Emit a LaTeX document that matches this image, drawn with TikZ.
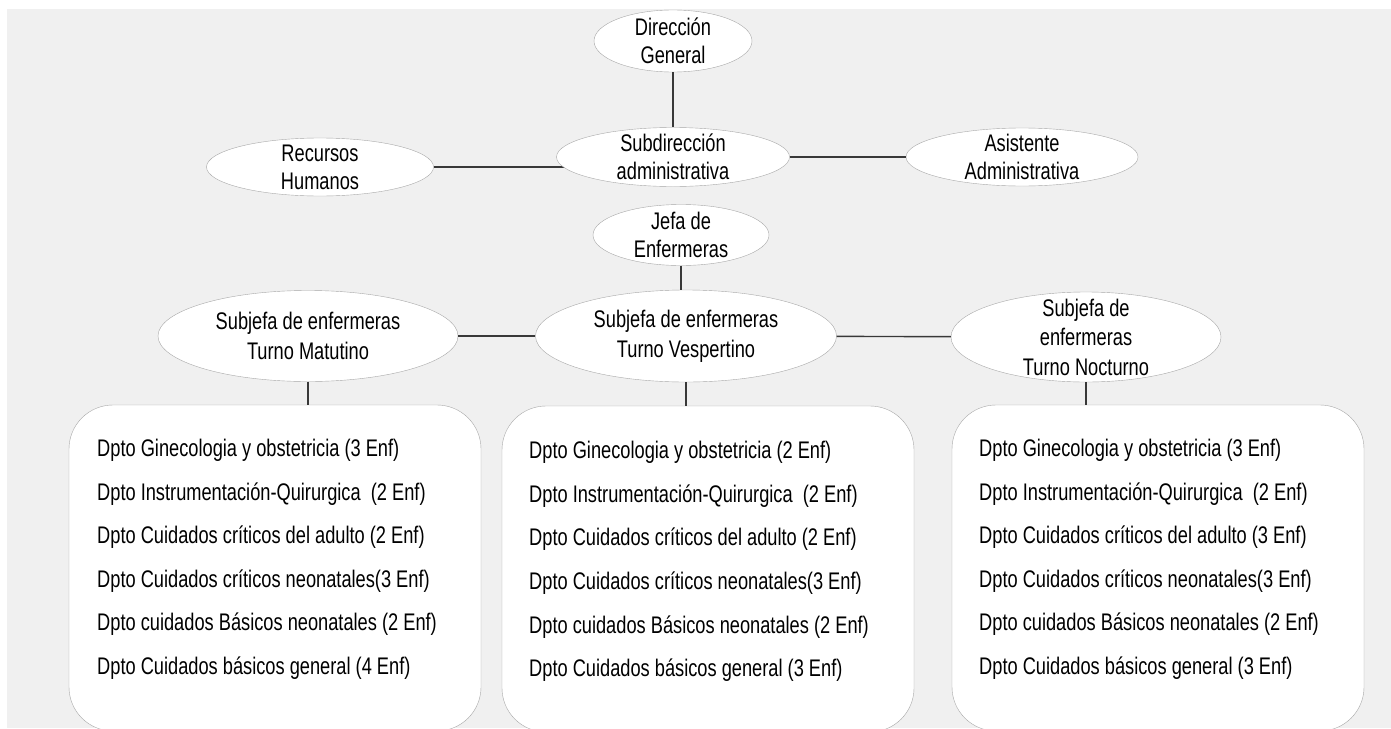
\documentclass[tikz,border=0pt]{standalone}
\usepackage{fontspec}
\setmainfont{Liberation Sans}[FakeStretch=0.76]
\usetikzlibrary{shapes.geometric}
\pgfdeclarelayer{bg}
\pgfsetlayers{bg,main}
\definecolor{panel}{HTML}{F0F0F0}
\definecolor{rim}{HTML}{A8A8A8}
\definecolor{wire}{HTML}{383838}

\begin{document}
\begin{tikzpicture}[x=1pt, y=-1pt,
  main/.style = {draw=rim, fill=white, ellipse, inner xsep=0pt, inner ysep=-15pt, align=center, font=\fontsize{24}{28}\selectfont},
  dept/.style = {draw=rim, fill=white, rounded corners=44pt, minimum width=412pt, minimum height=326pt, inner sep=0pt},
  list/.style = {anchor=north west, align=left, inner sep=0pt, font=\fontsize{24}{43.6}\selectfont},
  link/.style = {draw=wire, line width=1.4pt}]
\useasboundingbox (0,0) rectangle (1391,728);
\begin{pgfonlayer}{bg}
\fill[panel] (7,9) rectangle (1391,728);
\end{pgfonlayer}
\node[main, minimum width=158pt, minimum height=62pt] (1) at (673,41) {Dirección\\General};
\node[main, minimum width=233pt, minimum height=59pt] (2) at (673,157) {Subdirección\\administrativa};
\node[main, minimum width=227pt, minimum height=58pt] (3) at (320,167) {Recursos\\Humanos};
\node[main, minimum width=232pt, minimum height=58pt] (4) at (1022,157) {Asistente\\Administrativa};
\node[main, minimum width=176pt, minimum height=61pt] (5) at (681,235) {Jefa de\\Enfermeras};
\node[main, minimum width=300pt, minimum height=91pt, font=\fontsize{24}{30}\selectfont] (6) at (308,336) {Subjefa de enfermeras\\Turno Matutino};
\node[main, minimum width=301pt, minimum height=92pt, font=\fontsize{24}{30}\selectfont] (7) at (686,336) {Subjefa de enfermeras\\Turno Vespertino};
\node[main, minimum width=270pt, minimum height=90pt, font=\fontsize{24}{29.5}\selectfont] (8) at (1086,337) {Subjefa de\\enfermeras\\Turno Nocturno};
\node[dept] (9) at (275,568) {};
\node[dept] (10) at (708,569) {};
\node[dept] (11) at (1158,568) {};
\node[list] (12) at (97,439) {Dpto Ginecologia y obstetricia (3 Enf)\\Dpto Instrumentación-Quirurgica\ \ (2 Enf)\\Dpto Cuidados críticos del adulto (2 Enf)\\Dpto Cuidados críticos neonatales(3 Enf)\\Dpto cuidados Básicos neonatales (2 Enf)\\Dpto Cuidados básicos general (4 Enf)};
\node[list] (13) at (529,441) {Dpto Ginecologia y obstetricia (2 Enf)\\Dpto Instrumentación-Quirurgica\ \ (2 Enf)\\Dpto Cuidados críticos del adulto (2 Enf)\\Dpto Cuidados críticos neonatales(3 Enf)\\Dpto cuidados Básicos neonatales (2 Enf)\\Dpto Cuidados básicos general (3 Enf)};
\node[list] (14) at (979,439) {Dpto Ginecologia y obstetricia (3 Enf)\\Dpto Instrumentación-Quirurgica\ \ (2 Enf)\\Dpto Cuidados críticos del adulto (3 Enf)\\Dpto Cuidados críticos neonatales(3 Enf)\\Dpto cuidados Básicos neonatales (2 Enf)\\Dpto Cuidados básicos general (3 Enf)};
\draw[link] (1) -- (2);
\draw[link] (2) -- (4);
\begin{pgfonlayer}{bg}
\draw[link] (3) -- (3 -| 2);
\end{pgfonlayer}
\draw[link] (5) -- (5 |- 7.north);
\draw[link] (6) -- (7);
\draw[link] (7) -- (8);
\draw[link] (6) -- (6 |- 9.north);
\draw[link] (7) -- (7 |- 10.north);
\draw[link] (8) -- (8 |- 11.north);
\end{tikzpicture}
\end{document}
